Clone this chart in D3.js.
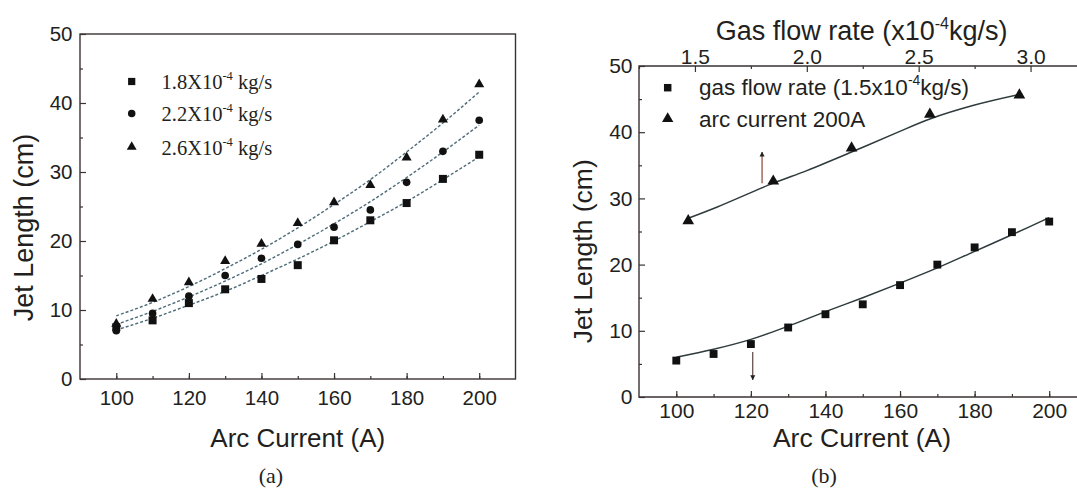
<!DOCTYPE html>
<html><head><meta charset="utf-8">
<script src="https://cdn.jsdelivr.net/npm/d3@7"></script>
<style>
html,body{margin:0;padding:0;background:#fff;}
svg{display:block;}
</style></head>
<body>
<svg id="c" width="1077" height="489"></svg>
<script>
// ---------- data ----------
const arcCurrent = [100,110,120,130,140,150,160,170,180,190,200];
// panel (a)
const legendA = ["1.8X10", "2.2X10", "2.6X10"];
const jet18 = [7.5, 8.5, 11.0, 13.0, 14.5, 16.5, 20.1, 23.0, 25.5, 29.0, 32.5];
const jet22 = [7.0, 9.5, 12.0, 15.0, 17.5, 19.5, 22.0, 24.5, 28.5, 33.0, 37.5];
const jet26 = [8.0, 11.6, 14.0, 17.1, 19.6, 22.6, 25.6, 28.1, 32.1, 37.6, 42.7];
const fit18 = [7.1, 8.8, 10.7, 12.7, 15.0, 17.4, 20.0, 22.8, 25.7, 28.9, 32.2];
const fit22 = [7.9, 9.8, 11.9, 14.2, 16.7, 19.5, 22.5, 25.7, 29.2, 32.9, 36.8];
const fit26 = [9.15, 11.1, 13.4, 16.0, 18.8, 21.9, 25.3, 28.9, 32.9, 37.1, 41.6];
// panel (b)
const jetVsCurrent = [5.5, 6.5, 8.0, 10.5, 12.5, 14.0, 16.9, 20.0, 22.6, 24.9, 26.5];
const fitVsCurrent = [6.0, 7.2, 8.7, 10.7, 12.9, 15.0, 17.2, 19.5, 22.0, 24.5, 27.1];
const gasFlow = [1.47, 1.85, 2.2, 2.55, 2.95];
const jetVsFlow = [26.6, 32.6, 37.6, 42.7, 45.6];
const fitFlowX = [1.47, 1.6, 1.85, 2.0, 2.2, 2.4, 2.55, 2.75, 2.95];
const fitFlowY = [27.0, 28.7, 32.3, 34.2, 37.0, 39.9, 42.0, 44.1, 45.7];
const currentTicks = [100,120,140,160,180,200];
const currentMinor = [100,110,120,130,140,150,160,170,180,190,200];
const jetTicks = [0,10,20,30,40,50];
const jetMinor = [5,15,25,35,45];
const flowTicks = [1.5,2.0,2.5,3.0];
const flowMinor = [1.25,1.75,2.25,2.75,3.25];
const upArrow = {flow:1.8, from:32.3, to:37.0};
const downArrow = {current:120.5, from:6.8, to:2.6};

// ---------- styles ----------
const SANS = "'Liberation Sans', Arial, Helvetica, sans-serif";
const SERIF = "'Liberation Serif', 'Times New Roman', serif";
const AX = "#3b3232";
const TXT = "#231f20";
const MK = "#111";

const svg = d3.select("#c");
const defs = svg.append("defs");
defs.append("marker").attr("id","ah").attr("viewBox","0 0 10 10")
  .attr("refX",9).attr("refY",5).attr("markerWidth",5).attr("markerHeight",7)
  .attr("orient","auto").attr("markerUnits","userSpaceOnUse")
  .append("path").attr("d","M0,0 L10,5 L0,10 Z").attr("fill","#222");

function sym(type, size){ return d3.symbol().type(type).size(size)(); }

function styleAxis(g, fs){
  g.select(".domain").remove();
  g.selectAll(".tick line").attr("stroke",AX).attr("stroke-width",1.2);
  g.selectAll(".tick text").attr("fill",TXT).attr("font-family",SANS).attr("font-size",fs);
}

// ================= Panel (a) =================
{
  const L=80, R=515.5, T=34, B=379;
  const x = d3.scaleLinear().domain([90,210]).range([L,R]);
  const y = d3.scaleLinear().domain([0,50]).range([B,T]);
  const g = svg.append("g");

  g.append("g").attr("transform",`translate(0,${B})`)
    .call(d3.axisBottom(x).tickValues(currentMinor).tickSizeInner(-3).tickSizeOuter(0).tickFormat(""))
    .call(a=>styleAxis(a,20));
  g.append("g").attr("transform",`translate(${L},0)`)
    .call(d3.axisLeft(y).tickValues(jetMinor).tickSizeInner(-3).tickSizeOuter(0).tickFormat(""))
    .call(a=>styleAxis(a,20));
  g.append("g").attr("transform",`translate(0,${B})`)
    .call(d3.axisBottom(x).tickValues(currentTicks).tickSizeInner(-6).tickSizeOuter(0).tickPadding(11.5))
    .call(a=>styleAxis(a,20.5));
  g.append("g").attr("transform",`translate(${L},0)`)
    .call(d3.axisLeft(y).tickValues(jetTicks).tickSizeInner(-6).tickSizeOuter(0).tickPadding(7.5))
    .call(a=>styleAxis(a,20.5));

  g.append("rect").attr("x",L).attr("y",T).attr("width",R-L).attr("height",B-T)
    .attr("fill","none").attr("stroke",AX).attr("stroke-width",1.4);

  const line = d3.line().x((d,i)=>x(arcCurrent[i])).y(d=>y(d)).curve(d3.curveCatmullRom);
  [fit18,fit22,fit26].forEach(f=>{
    g.append("path").attr("d",line(f)).attr("fill","none")
      .attr("stroke","#4d6b78").attr("stroke-width",1.4).attr("stroke-dasharray","3,2");
  });
  const series = [[jet18,d3.symbolSquare,64],[jet22,d3.symbolCircle,46],[jet26,d3.symbolTriangle,44]];
  series.forEach(([vals,type,size])=>{
    g.selectAll(null).data(vals).join("path")
      .attr("d",sym(type,size))
      .attr("transform",(d,i)=>`translate(${x(arcCurrent[i])},${y(d)})`)
      .attr("fill",MK);
  });

  // legend
  const ly=[81.5,113.5,147];
  const lsyms=[[d3.symbolSquare,52],[d3.symbolCircle,44],[d3.symbolTriangle,42]];
  legendA.forEach((t,i)=>{
    g.append("path").attr("d",sym(lsyms[i][0],lsyms[i][1]))
      .attr("transform",`translate(131.7,${ly[i]})`).attr("fill",MK);
    const tx = g.append("text").attr("x",161.5).attr("y",ly[i]+7.5)
      .attr("font-family",SERIF).attr("font-size",20.5).attr("fill",TXT);
    tx.append("tspan").text(t);
    tx.append("tspan").attr("dy",-9).attr("font-size",12.5).text("-4");
    tx.append("tspan").attr("dy",9).text(" kg/s");
  });

  g.append("text").attr("x",(L+R)/2).attr("y",446.5).attr("text-anchor","middle")
    .attr("font-family",SANS).attr("font-size",26).attr("fill",TXT).text("Arc Current (A)");
  g.append("text").attr("transform","translate(33,227.5) rotate(-90)").attr("text-anchor","middle")
    .attr("font-family",SANS).attr("font-size",27).attr("fill",TXT).text("Jet Length (cm)");
  g.append("text").attr("x",271).attr("y",483).attr("text-anchor","middle")
    .attr("font-family",SERIF).attr("font-size",22).attr("fill",TXT).text("(a)");
}

// ================= Panel (b) =================
{
  const L=639, R=1086.5, T=66, B=397;
  const x = d3.scaleLinear().domain([90,210]).range([L,R]);
  const xt = d3.scaleLinear().domain([1.25,3.25]).range([L,R]);
  const y = d3.scaleLinear().domain([0,50]).range([B,T]);
  const g = svg.append("g");

  g.append("g").attr("transform",`translate(0,${B})`)
    .call(d3.axisBottom(x).tickValues(currentMinor).tickSizeInner(-3).tickSizeOuter(0).tickFormat(""))
    .call(a=>styleAxis(a,20));
  g.append("g").attr("transform",`translate(0,${T})`)
    .call(d3.axisTop(xt).tickValues(flowMinor).tickSizeInner(-3).tickSizeOuter(0).tickFormat(""))
    .call(a=>styleAxis(a,20));
  g.append("g").attr("transform",`translate(${L},0)`)
    .call(d3.axisLeft(y).tickValues(jetMinor).tickSizeInner(-3).tickSizeOuter(0).tickFormat(""))
    .call(a=>styleAxis(a,20));

  g.append("g").attr("transform",`translate(0,${B})`)
    .call(d3.axisBottom(x).tickValues(currentTicks).tickSizeInner(-6).tickSizeOuter(0).tickPadding(6.5))
    .call(a=>styleAxis(a,21));
  g.append("g").attr("transform",`translate(0,${T})`)
    .call(d3.axisTop(xt).tickValues(flowTicks).tickSizeInner(-6).tickSizeOuter(0).tickPadding(2.5).tickFormat(d3.format(".1f")))
    .call(a=>styleAxis(a,21));
  g.append("g").attr("transform",`translate(${L},0)`)
    .call(d3.axisLeft(y).tickValues(jetTicks).tickSizeInner(-6).tickSizeOuter(0).tickPadding(6.5))
    .call(a=>styleAxis(a,21));

  g.append("path").attr("d",`M${R},${T}H${L}V${B}H${R}`)
    .attr("fill","none").attr("stroke",AX).attr("stroke-width",1.4);

  const lineC = d3.line().x((d,i)=>x(arcCurrent[i])).y(d=>y(d)).curve(d3.curveCatmullRom);
  g.append("path").attr("d",lineC(fitVsCurrent)).attr("fill","none").attr("stroke","#2e3a3c").attr("stroke-width",1.5);
  const lineF = d3.line().x((d,i)=>xt(fitFlowX[i])).y(d=>y(d)).curve(d3.curveCatmullRom);
  g.append("path").attr("d",lineF(fitFlowY)).attr("fill","none").attr("stroke","#2e3a3c").attr("stroke-width",1.5);

  g.selectAll(null).data(jetVsCurrent).join("path")
    .attr("d",sym(d3.symbolSquare,62))
    .attr("transform",(d,i)=>`translate(${x(arcCurrent[i])},${y(d)})`).attr("fill",MK);
  g.selectAll(null).data(jetVsFlow).join("path")
    .attr("d",sym(d3.symbolTriangle,60))
    .attr("transform",(d,i)=>`translate(${xt(gasFlow[i])},${y(d)})`).attr("fill",MK);

  g.append("line").attr("x1",xt(upArrow.flow)).attr("x2",xt(upArrow.flow))
    .attr("y1",y(upArrow.from)).attr("y2",y(upArrow.to))
    .attr("stroke","#8a4536").attr("stroke-width",1.2).attr("marker-end","url(#ah)");
  g.append("line").attr("x1",x(downArrow.current)).attr("x2",x(downArrow.current))
    .attr("y1",y(downArrow.from)).attr("y2",y(downArrow.to))
    .attr("stroke","#5a4440").attr("stroke-width",1.2).attr("marker-end","url(#ah)");

  // legend
  g.append("path").attr("d",sym(d3.symbolSquare,56)).attr("transform","translate(667.7,87.7)").attr("fill",MK);
  g.append("path").attr("d",sym(d3.symbolTriangle,56)).attr("transform","translate(667.7,118.8)").attr("fill",MK);
  const t1 = g.append("text").attr("x",699).attr("y",95).attr("font-family",SANS).attr("font-size",22.5).attr("fill",TXT);
  t1.append("tspan").text("gas flow rate (1.5x10");
  t1.append("tspan").attr("dy",-10).attr("font-size",14).text("-4");
  t1.append("tspan").attr("dy",10).text("kg/s)");
  g.append("text").attr("x",699).attr("y",126.5).attr("font-family",SANS).attr("font-size",22.5).attr("fill",TXT)
    .text("arc current 200A");

  const tt = g.append("text").attr("x",861.6).attr("y",39.5).attr("text-anchor","middle")
    .attr("font-family",SANS).attr("font-size",27).attr("fill",TXT);
  tt.append("tspan").text("Gas flow rate (x10");
  tt.append("tspan").attr("dy",-11).attr("font-size",16).text("-4");
  tt.append("tspan").attr("dy",11).text("kg/s)");
  g.append("text").attr("x",862).attr("y",446.5).attr("text-anchor","middle")
    .attr("font-family",SANS).attr("font-size",26.5).attr("fill",TXT).text("Arc Current (A)");
  g.append("text").attr("transform","translate(592,251.3) rotate(-90)").attr("text-anchor","middle")
    .attr("font-family",SANS).attr("font-size",26.5).attr("fill",TXT).text("Jet Length (cm)");
  g.append("text").attr("x",824).attr("y",483).attr("text-anchor","middle")
    .attr("font-family",SERIF).attr("font-size",22).attr("fill",TXT).text("(b)");
}
</script>
</body></html>
